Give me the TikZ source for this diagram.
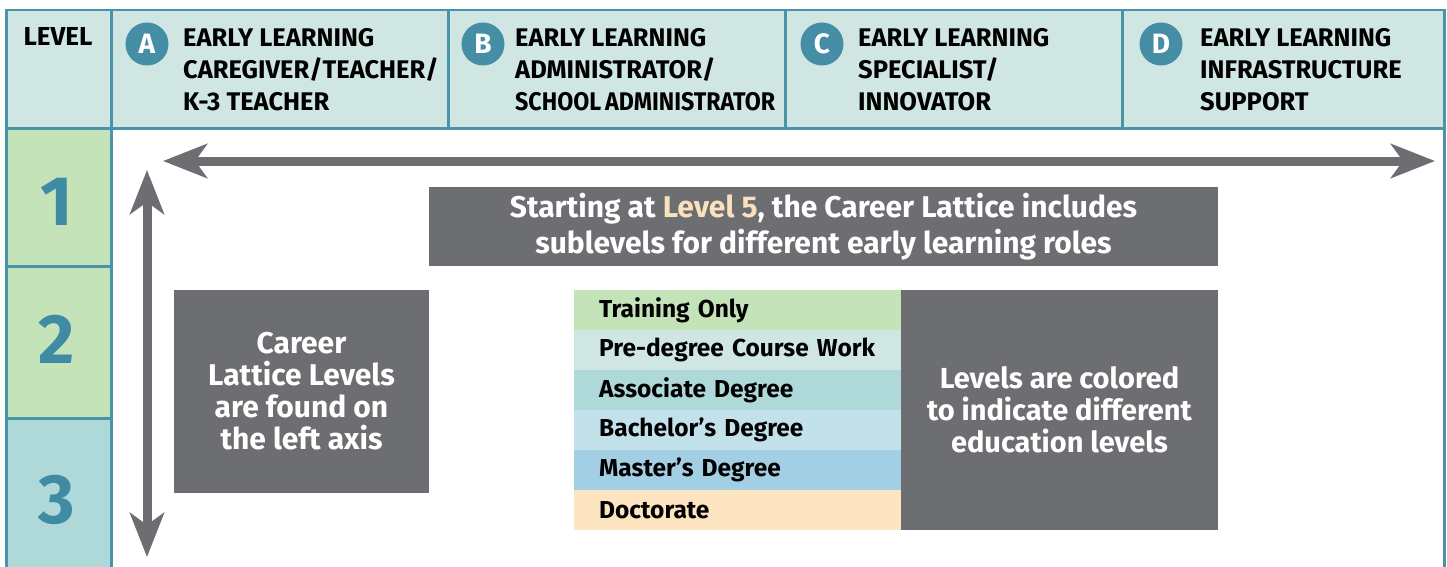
\documentclass[tikz,border=0pt]{standalone}
\usepackage{fontspec}
\setmainfont{Fira Sans}
\usetikzlibrary{arrows.meta,positioning}

\definecolor{frameteal}{HTML}{4A94A9}
\definecolor{headfill}{HTML}{CFE6E3}
\definecolor{circteal}{HTML}{468EA6}
\definecolor{numteal}{HTML}{3F8BA3}
\definecolor{trainfill}{HTML}{C5E3B8}
\definecolor{predegfill}{HTML}{CFE6E3}
\definecolor{assocfill}{HTML}{AED9D8}
\definecolor{bachfill}{HTML}{C2E1EA}
\definecolor{mastfill}{HTML}{A3CFE4}
\definecolor{docfill}{HTML}{FDE5C2}
\definecolor{boxgray}{HTML}{6D6E71}
\definecolor{peach}{HTML}{FBE0BE}

\begin{document}
\begin{tikzpicture}
	[x=1pt,y=-1pt,
	cell/.style={draw=frameteal, line width=2.5pt, inner sep=0, anchor=north west},
	head/.style={font=\fontsize{25.5}{32}\selectfont\bfseries, align=left, inner sep=0, anchor=north west},
	badge/.style={circle, fill=circteal, text=white, minimum size=43, inner sep=0, font=\fontsize{28}{28}\selectfont\bfseries},
	levnum/.style={text=numteal, font=\fontsize{70}{70}\selectfont\bfseries, anchor=base},
	graybox/.style={fill=boxgray, text=white, inner sep=0, align=center, font=\fontsize{30}{32}\selectfont\bfseries},
	legrow/.style={anchor=north west, minimum height=40, text width=277, inner xsep=25, inner ysep=0, align=left, font=\fontsize{24.5}{24.5}\selectfont\bfseries},
	axis/.style={draw=boxgray, line width=9pt, {Stealth[length=44pt,width=34pt,inset=12pt]}-{Stealth[length=44pt,width=34pt,inset=12pt]}}]
	\useasboundingbox (0,0) rectangle (1447,567);
	\clip (0,0) rectangle (1447,567);

	\node[cell, fill=white, minimum width=1333, minimum height=500] (body) at (110,127) {};
	\node[cell, fill=trainfill, minimum width=105, minimum height=138] (lev1) at (5,127) {};
	\node[cell, fill=trainfill, minimum width=105, minimum height=152] (lev2) at (5,265) {};
	\node[cell, fill=assocfill, minimum width=105, minimum height=183] (lev3) at (5,417) {};
	\node[cell, fill=headfill, minimum width=105, minimum height=118] (hlev) at (5,9) {};
	\node[cell, fill=headfill, minimum width=337, minimum height=118] (hA) at (110,9) {};
	\node[cell, fill=headfill, minimum width=337, minimum height=118] (hB) at (447,9) {};
	\node[cell, fill=headfill, minimum width=337, minimum height=118] (hC) at (784,9) {};
	\node[cell, fill=headfill, minimum width=322, minimum height=118] (hD) at (1121,9) {};

	\node[font=\fontsize{26}{26}\selectfont\bfseries, anchor=base, inner sep=0] (levtitle) at (58,46) {LEVEL};
	\node[badge] (bA) at (147,44) {A};
	\node[badge] (bB) at (483,44) {B};
	\node[badge] (bC) at (822,44) {C};
	\node[badge] (bD) at (1161,44) {D};
	\node[head] (tA) at (183,28) {EARLY LEARNING\\CAREGIVER/TEACHER/\\K-3 TEACHER};
	\node[head] (tB) at (515,28) {EARLY LEARNING\\ADMINISTRATOR/\\{\addfontfeature{FakeStretch=0.91}SCHOOL\hspace{4pt}ADMINISTRATOR}};
	\node[head] (tC) at (858,28) {EARLY LEARNING\\SPECIALIST/\\INNOVATOR};
	\node[head] (tD) at (1200,28) {EARLY LEARNING\\INFRASTRUCTURE\\SUPPORT};

	\node[levnum] (n1) at (57,225) {1};
	\node[levnum] (n2) at (57,363) {2};
	\node[levnum] (n3) at (57,523) {3};

	\coordinate (hL) at (163,161);
	\coordinate (hR) at (1435,161);
	\coordinate (vT) at (147,170);
	\coordinate (vB) at (147,557);
	\draw[axis] (hL) -- (hR);
	\draw[axis] (vT) -- (vB);

	\node[graybox, minimum width=789, minimum height=79, font=\fontsize{30}{36}\selectfont\bfseries] (note) at (823.5,226.5)
		{Starting at {\color{peach}Level 5}, the Career Lattice includes\\sublevels for different early learning roles};
	\node[graybox, minimum width=255, minimum height=203] (levnote) at (301.5,391.5)
		{Career\\Lattice Levels\\are found on\\the left axis};
	\node[graybox, minimum width=317, minimum height=240, font=\fontsize{29}{32}\selectfont\bfseries] (colnote) at (1059.5,410)
		{Levels are colored\\to indicate different\\education levels};

	\foreach \fc/\txt [count=\i from 0] in {trainfill/Training Only, predegfill/Pre-degree Course Work, assocfill/Associate Degree, bachfill/Bachelor’s Degree, mastfill/Master’s Degree, docfill/Doctorate}
		\node[legrow, fill=\fc] (leg\i) at (574,290+40*\i) {\txt};
\end{tikzpicture}
\end{document}
